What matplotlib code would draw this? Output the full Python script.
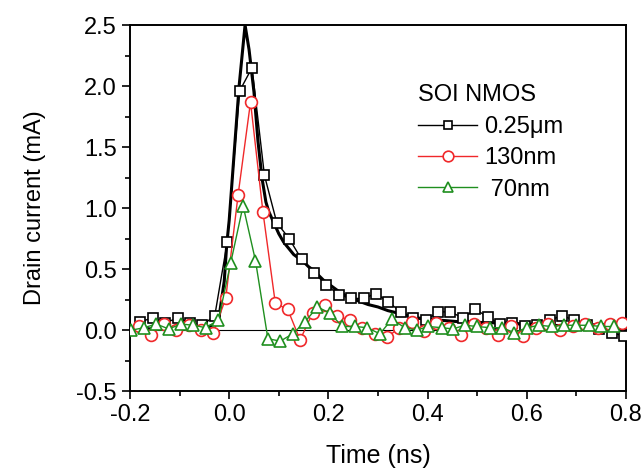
import matplotlib
matplotlib.use("Agg")
import matplotlib.pyplot as plt
from matplotlib.ticker import MultipleLocator

plt.rcParams['font.family'] = ['Liberation Sans', 'DejaVu Sans']

# dense measured curve (0.25um)
t_dense = [-0.2, -0.18, -0.16, -0.14, -0.12, -0.10, -0.08, -0.06, -0.04, -0.03, -0.02,
           -0.01, -0.005, 0.0, 0.01, 0.02, 0.032, 0.04, 0.05, 0.058, 0.066, 0.074, 0.08,
           0.09, 0.10, 0.11, 0.12, 0.13, 0.14, 0.15, 0.16, 0.17, 0.18, 0.19, 0.20, 0.21,
           0.22, 0.24, 0.26, 0.28, 0.30, 0.32, 0.34, 0.36, 0.38, 0.40, 0.43, 0.46, 0.48,
           0.52, 0.55, 0.60, 0.65, 0.70, 0.75, 0.80]
i_dense = [0.00, 0.02, 0.01, 0.03, 0.02, 0.03, 0.02, 0.03, 0.03, 0.05, 0.12,
           0.40, 0.70, 0.90, 1.45, 2.00, 2.50, 2.30, 1.95, 1.55, 1.25, 1.05, 0.97,
           0.88, 0.79, 0.72, 0.67, 0.62, 0.59, 0.56, 0.52, 0.49, 0.45, 0.41, 0.38, 0.35,
           0.32, 0.27, 0.24, 0.21, 0.19, 0.16, 0.14, 0.12, 0.10, 0.09, 0.08, 0.07, 0.07,
           0.06, 0.06, 0.05, 0.04, 0.03, 0.02, 0.01]

# 0.25um squares
t_sq = [-0.179, -0.154, -0.129, -0.104, -0.079, -0.054, -0.029, -0.004, 0.021, 0.046,
        0.071, 0.096, 0.121, 0.146, 0.171, 0.196, 0.221, 0.246, 0.271, 0.296, 0.321,
        0.346, 0.371, 0.396, 0.421, 0.446, 0.471, 0.496, 0.521, 0.546, 0.571, 0.596,
        0.621, 0.646, 0.671, 0.696, 0.721, 0.746, 0.771, 0.796]
i_sq = [0.07, 0.10, 0.06, 0.10, 0.06, 0.04, 0.12, 0.72, 1.96, 2.15,
        1.27, 0.88, 0.75, 0.58, 0.47, 0.37, 0.29, 0.26, 0.26, 0.30, 0.23,
        0.15, 0.10, 0.08, 0.15, 0.15, 0.10, 0.17, 0.11, 0.05, 0.06, 0.03,
        0.04, 0.08, 0.12, 0.08, 0.04, 0.01, -0.02, -0.05]

# 130nm circles
t_ci = [-0.182, -0.157, -0.132, -0.107, -0.082, -0.057, -0.032, -0.007, 0.018, 0.043,
        0.068, 0.093, 0.118, 0.143, 0.168, 0.193, 0.218, 0.243, 0.268, 0.293, 0.318,
        0.343, 0.368, 0.393, 0.418, 0.443, 0.468, 0.493, 0.518, 0.543, 0.568, 0.593,
        0.618, 0.643, 0.668, 0.693, 0.718, 0.743, 0.768, 0.793]
i_ci = [0.03, -0.04, 0.05, 0.00, 0.04, 0.00, -0.02, 0.26, 1.11, 1.87,
        0.97, 0.22, 0.17, -0.08, 0.14, 0.21, 0.12, 0.08, 0.02, -0.03, -0.06,
        0.02, 0.07, -0.01, 0.06, 0.02, -0.04, 0.05, 0.02, -0.04, 0.03, -0.05,
        0.02, 0.05, 0.00, 0.03, 0.05, 0.02, 0.05, 0.06]

# 70nm triangles
t_tr = [-0.197, -0.172, -0.147, -0.122, -0.097, -0.072, -0.047, -0.022, 0.003, 0.028,
        0.053, 0.078, 0.103, 0.128, 0.153, 0.178, 0.203, 0.228, 0.254, 0.278, 0.304,
        0.328, 0.354, 0.378, 0.401, 0.429, 0.451, 0.475, 0.500, 0.526, 0.550, 0.575,
        0.600, 0.625, 0.650, 0.675, 0.700, 0.725, 0.750, 0.775]
i_tr = [0.00, 0.02, 0.05, 0.01, 0.05, 0.04, 0.02, 0.08, 0.55, 1.02,
        0.57, -0.07, -0.09, -0.03, 0.07, 0.19, 0.14, 0.03, 0.03, 0.02, -0.03,
        0.09, 0.02, 0.00, 0.03, 0.02, 0.01, 0.04, 0.03, 0.02, 0.02, -0.02,
        0.02, 0.04, 0.03, 0.04, 0.04, 0.04, 0.03, 0.03]

red = '#f0282a'
green = '#1f8f1f'

fig = plt.figure(figsize=(6.42, 4.73), dpi=100)
ax = fig.add_axes([0.2025, 0.173, 0.7725, 0.774])

ax.axhline(0, color='black', lw=0.8, zorder=1)
ax.plot(t_dense, i_dense, color='black', lw=2.2, zorder=2)
ax.plot(t_sq, i_sq, color='black', lw=1.0, marker='s', ms=7, mfc='white',
        mec='black', mew=1.2, label='0.25\u03bcm', zorder=3)
ax.plot(t_ci, i_ci, color=red, lw=1.0, marker='o', ms=8.5, mfc='white',
        mec=red, mew=1.2, label='130nm', zorder=4)
ax.plot(t_tr, i_tr, color=green, lw=1.0, marker='^', ms=8.5, mfc='white',
        mec=green, mew=1.2, label=' 70nm', zorder=5)

ax.set_xlim(-0.2, 0.8)
ax.set_ylim(-0.5, 2.5)
ax.xaxis.set_major_locator(MultipleLocator(0.2))
ax.xaxis.set_minor_locator(MultipleLocator(0.1))
ax.yaxis.set_major_locator(MultipleLocator(0.5))
ax.yaxis.set_minor_locator(MultipleLocator(0.25))
ax.xaxis.set_major_formatter(plt.FuncFormatter(lambda v, p: f"{v:.1f}"))
ax.yaxis.set_major_formatter(plt.FuncFormatter(lambda v, p: f"{v:.1f}"))
ax.tick_params(which='both', direction='out', top=False, right=False,
               labelsize=17, width=1.2)
ax.tick_params(which='major', length=6)
ax.tick_params(which='minor', length=3.5)
for s in ax.spines.values():
    s.set_linewidth(1.4)

ax.set_xlabel('Time (ns)', fontsize=18, labelpad=13)
ax.set_ylabel('Drain current (mA)', fontsize=17, labelpad=22)

leg = ax.legend(title='SOI NMOS', loc='upper left', bbox_to_anchor=(0.538, 0.896),
                frameon=False, fontsize=17, title_fontsize=17, handlelength=2.5,
                handletextpad=0.3, labelspacing=0.4, alignment='left',
                markerscale=0.9)

fig.savefig('out.png', dpi=100)
